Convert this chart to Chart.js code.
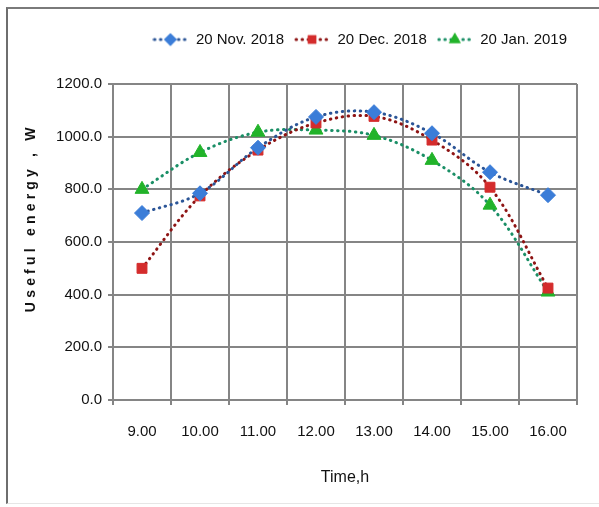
<!DOCTYPE html>
<html>
<head>
<meta charset="utf-8">
<script src="https://cdn.jsdelivr.net/npm/chart.js@4/dist/chart.umd.min.js"></script>
<style>
  html, body { margin: 0; padding: 0; background: #fff; }
  #wrap { position: relative; width: 599px; height: 507px; overflow: hidden; }
  #frame { position: absolute; left: 6px; top: 7px; right: -4px; bottom: 3px;
           border-left: 2px solid #6e6e6e; border-top: 2px solid #7a7a7a; border-bottom: 1px solid #e6e6e6; }
  #chart { position: absolute; left: 0; top: 0; }
</style>
</head>
<body>
<div id="wrap">
  <div id="frame"></div>
  <canvas id="chart" width="599" height="507"></canvas>
</div>
<script>
const hours = ['9.00', '10.00', '11.00', '12.00', '13.00', '14.00', '15.00', '16.00'];
const nov2018 = [710, 785, 958, 1075, 1093, 1013, 865, 778];
const dec2018 = [500, 775, 949, 1052, 1077, 987, 808, 425];
const jan2019 = [800, 940, 1017, 1025, 1005, 910, 740, 410];
const seriesNames = ['20 Nov. 2018', '20 Dec. 2018', '20 Jan. 2019'];

const sans = '"Liberation Sans", Arial, sans-serif';

const styles = [
    { line: '#2b5597', mark: '#3b7dd8', shape: 'rectRot', r: 7.5 },
    { line: '#8e1414', mark: '#d42c2c', shape: 'rect', r: 7 },
    { line: '#1a8f66', mark: '#22b32a', shape: 'triangle', r: 8 }
];

// little "dotted line + marker" pictures for the legend
function makeLegendIcon(st) {
    const c = document.createElement('canvas');
    c.width = 36;
    c.height = 16;
    const g = c.getContext('2d');
    g.strokeStyle = st.line;
    g.lineWidth = 3;
    g.lineCap = 'round';
    g.setLineDash([0.5, 5.5]);
    g.beginPath();
    g.moveTo(2, 8);
    g.lineTo(34, 8);
    g.stroke();
    g.setLineDash([]);
    g.fillStyle = st.mark;
    Chart.helpers.drawPoint(g, { pointStyle: st.shape, radius: st.r * 0.85, borderWidth: 0 }, 18, 8);
    g.fill();
    return c;
}
const legendIcons = styles.map(makeLegendIcon);

// empty box between legend and plot, pushes the plot top down
const legendGap = {
    id: 'legendGap',
    beforeInit(chart) {
        Chart.layouts.addBox(chart, {
            position: 'top',
            weight: 500,
            fullSize: true,
            options: { stackWeight: 1 },
            left: 0, top: 0, right: 0, bottom: 0, width: 0, height: 0,
            isHorizontal() { return true; },
            update(maxWidth) { this.width = maxWidth; this.height = 27; },
            draw() {}
        });
    }
};

// letter spacing for the y axis title
const spacedTitle = {
    id: 'spacedTitle',
    afterLayout(chart) {
        const s = chart.scales.y;
        if (!s || s._spaced) return;
        const orig = s.drawTitle;
        s.drawTitle = function (area) {
            const prev = this.ctx.letterSpacing;
            this.ctx.letterSpacing = '4.2px';
            orig.call(this, area);
            this.ctx.letterSpacing = prev;
        };
        s._spaced = true;
    }
};

const allSeries = [nov2018, dec2018, jan2019];
const datasets = allSeries.map((vals, i) => ({
    label: seriesNames[i],
    data: vals,
    borderColor: styles[i].line,
    backgroundColor: styles[i].mark,
    borderWidth: 3,
    borderDash: [0.5, 5.5],
    borderCapStyle: 'round',
    tension: 0.35,
    pointStyle: styles[i].shape,
    pointRadius: styles[i].r,
    pointHoverRadius: styles[i].r,
    pointBackgroundColor: styles[i].mark,
    pointBorderColor: styles[i].mark,
    pointBorderWidth: 1
}));

new Chart(document.getElementById('chart'), {
    type: 'line',
    data: { labels: hours, datasets },
    plugins: [legendGap, spacedTitle],
    options: {
        responsive: false,
        animation: false,
        layout: { padding: { left: 0, right: 22, top: 22, bottom: 0 } },
        plugins: {
            tooltip: { enabled: false },
            legend: {
                position: 'top',
                align: 'end',
                labels: {
                    usePointStyle: true,
                    pointStyleWidth: 36,
                    padding: 10,
                    color: '#111',
                    font: { family: sans, size: 15 },
                    generateLabels: (chart) => chart.data.datasets.map((ds, i) => ({
                        text: ds.label,
                        pointStyle: legendIcons[i],
                        fillStyle: ds.backgroundColor,
                        strokeStyle: ds.borderColor,
                        lineWidth: 0,
                        hidden: false,
                        datasetIndex: i,
                        fontColor: '#111'
                    }))
                }
            }
        },
        scales: {
            x: {
                offset: true,
                grid: { offset: true, color: '#858585', lineWidth: 2, tickLength: 5 },
                border: { color: '#858585', width: 2 },
                ticks: { color: '#111', padding: 18, font: { family: sans, size: 15 } },
                title: {
                    display: true,
                    text: 'Time,h',
                    color: '#111',
                    font: { family: sans, size: 16 },
                    padding: { top: 0, bottom: 20 }
                },
                afterFit: (s) => { s.height = 107; }
            },
            y: {
                min: 0,
                max: 1200,
                grid: { color: '#858585', lineWidth: 2, tickLength: 5 },
                border: { color: '#858585', width: 2 },
                ticks: {
                    stepSize: 200,
                    color: '#111',
                    padding: 6,
                    font: { family: sans, size: 15 },
                    callback: (v) => Number(v).toFixed(1)
                },
                title: {
                    display: true,
                    text: '      Useful energy , W',
                    color: '#111',
                    font: { family: sans, size: 14, weight: 'bold' },
                    padding: { top: 23, bottom: 0 }
                },
                afterFit: (s) => { s.width = 113; }
            }
        }
    }
});
</script>
</body>
</html>
